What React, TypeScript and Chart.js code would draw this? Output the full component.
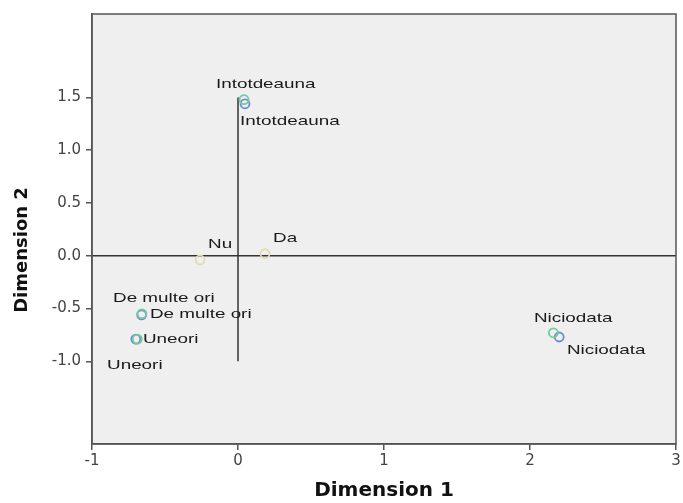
import React, { useEffect, useRef } from "react";
import { Chart, registerables } from "chart.js";

Chart.register(...registerables);

// Axis ticks
const xTicks = [-1, 0, 1, 2, 3];
const yTicks = [-1.0, -0.5, 0.0, 0.5, 1.0, 1.5];
const xMin = -1;
const xMax = 3;
const yMin = -1.784;
const yMax = 2.291;

// Axis titles
const xTitle = "Dimension 1";
const yTitle = "Dimension 2";

// Category points (green series)
const greenCategories = ["Intotdeauna", "De multe ori", "Uneori", "Niciodata"];
const greenX = [0.041, -0.658, -0.69, 2.16];
const greenY = [1.48, -0.55, -0.79, -0.73];

// Category points (blue series)
const blueCategories = ["Intotdeauna", "De multe ori", "Uneori", "Niciodata"];
const blueX = [0.048, -0.66, -0.7, 2.2];
const blueY = [1.44, -0.56, -0.79, -0.77];

// Yes / No points
const ynCategories = ["Nu", "Da"];
const ynX = [-0.26, 0.185];
const ynY = [-0.04, 0.02];

// Reference lines
const hLineX = [-1, 3];
const hLineY = [0, 0];
const vLineX = [0, 0];
const vLineY = [-1.0, 1.5];

// Point labels (text, left anchor in data units)
const labelTexts = [
  "Intotdeauna", "Intotdeauna", "Nu", "Da",
  "De multe ori", "De multe ori", "Uneori", "Uneori",
  "Niciodata", "Niciodata",
];
const labelX = [-0.151, 0.014, -0.205, 0.24, -0.856, -0.603, -0.651, -0.897, 2.027, 2.253];
const labelY = [1.624, 1.277, 0.103, 0.16, -0.404, -0.554, -0.789, -1.042, -0.592, -0.901];

const GREEN = "#74c99f";
const BLUE = "#6f8cd0";
const TAN = "#dedcae";

export default function App() {
  const canvasRef = useRef<HTMLCanvasElement | null>(null);

  useEffect(() => {
    document.body.style.margin = "0";
    const canvas = canvasRef.current;
    if (!canvas) return;

    const plotDecor = {
      id: "plotDecor",
      beforeDraw(chart: any) {
        const { ctx, chartArea } = chart;
        ctx.save();
        ctx.fillStyle = "#efefef";
        ctx.fillRect(chartArea.left, chartArea.top, chartArea.right - chartArea.left, chartArea.bottom - chartArea.top);
        ctx.restore();
      },
      afterDatasetsDraw(chart: any) {
        const { ctx } = chart;
        const xs = chart.scales.x;
        const ys = chart.scales.y;
        ctx.save();
        ctx.font = '13px "Liberation Sans", Arial, sans-serif';
        ctx.fillStyle = "#1a1a1a";
        ctx.textBaseline = "middle";
        ctx.textAlign = "left";
        for (let i = 0; i < labelTexts.length; i++) {
          const px = xs.getPixelForValue(labelX[i]);
          const py = ys.getPixelForValue(labelY[i]);
          ctx.save();
          ctx.translate(px, py);
          ctx.scale(1.45, 1);
          ctx.fillText(labelTexts[i], 0, 0);
          ctx.restore();
        }
        ctx.restore();
      },
      afterDraw(chart: any) {
        const { ctx, chartArea } = chart;
        ctx.save();
        ctx.strokeStyle = "#555";
        ctx.lineWidth = 1.5;
        ctx.strokeRect(chartArea.left, chartArea.top, chartArea.right - chartArea.left, chartArea.bottom - chartArea.top);
        // Y axis title
        ctx.translate(22, 250);
        ctx.rotate(-Math.PI / 2);
        ctx.font = 'bold 18px "DejaVu Sans", sans-serif';
        ctx.fillStyle = "#111";
        ctx.textAlign = "center";
        ctx.textBaseline = "middle";
        ctx.fillText(yTitle, 0, 0);
        ctx.restore();
      },
    };

    const toPts = (xs: number[], ys: number[]) => xs.map((x, i) => ({ x, y: ys[i] }));

    const chart = new Chart(canvas, {
      type: "scatter",
      data: {
        datasets: [
          {
            label: "h",
            data: toPts(hLineX, hLineY),
            showLine: true,
            borderColor: "#333",
            borderWidth: 1.5,
            pointRadius: 0,
            order: 10,
          },
          {
            label: "v",
            data: toPts(vLineX, vLineY),
            showLine: true,
            borderColor: "#333",
            borderWidth: 1.5,
            pointRadius: 0,
            order: 10,
          },
          {
            label: "Da/Nu",
            data: toPts(ynX, ynY),
            pointStyle: "circle",
            pointRadius: 4.5,
            borderColor: TAN,
            borderWidth: 1.8,
            backgroundColor: "rgba(0,0,0,0)",
            order: 3,
          },
          {
            label: "blue",
            data: toPts(blueX, blueY),
            pointRadius: 4.5,
            borderColor: BLUE,
            borderWidth: 1.8,
            backgroundColor: "rgba(0,0,0,0)",
            order: 2,
          },
          {
            label: "green",
            data: toPts(greenX, greenY),
            pointRadius: 4.5,
            borderColor: GREEN,
            borderWidth: 1.8,
            backgroundColor: "rgba(0,0,0,0)",
            order: 1,
          },
        ],
      },
      options: {
        animation: false,
        responsive: false,
        maintainAspectRatio: false,
        layout: { padding: { top: 10, right: 7, left: 0, bottom: 0 } },
        plugins: {
          legend: { display: false },
          tooltip: { enabled: false },
        },
        scales: {
          x: {
            type: "linear",
            min: xMin,
            max: xMax,
            afterBuildTicks: (scale: any) => {
              scale.ticks = xTicks.map((v) => ({ value: v }));
            },
            afterFit: (scale: any) => {
              scale.height = 59;
            },
            ticks: {
              font: { family: '"DejaVu Sans", sans-serif', size: 15 },
              color: "#444",
              padding: 2,
              callback: (v: any) => String(v),
            },
            grid: { display: true, drawOnChartArea: false, drawTicks: true, tickLength: 6, color: "#555", lineWidth: 1.5 },
            border: { display: true, color: "#555", width: 1.5 },
            title: {
              display: true,
              text: xTitle,
              font: { family: '"DejaVu Sans", sans-serif', size: 20, weight: "bold" },
              color: "#111",
              padding: 0,
            },
          },
          y: {
            type: "linear",
            min: yMin,
            max: yMax,
            afterBuildTicks: (scale: any) => {
              scale.ticks = yTicks.map((v) => ({ value: v }));
            },
            afterFit: (scale: any) => {
              scale.width = 92;
            },
            ticks: {
              font: { family: '"DejaVu Sans", sans-serif', size: 15 },
              color: "#444",
              padding: 5,
              callback: (v: any) => Number(v).toFixed(1),
            },
            grid: { display: true, drawOnChartArea: false, drawTicks: true, tickLength: 6, color: "#555", lineWidth: 1.5 },
            border: { display: true, color: "#555", width: 1.5 },
            title: { display: false },
          },
        },
      },
      plugins: [plotDecor],
    } as any);

    return () => {
      chart.destroy();
    };
  }, []);

  return (
    <div style={{ width: 683, height: 503, position: "relative" }}>
      <canvas ref={canvasRef} width={683} height={503} style={{ display: "block" }} />
    </div>
  );
}
